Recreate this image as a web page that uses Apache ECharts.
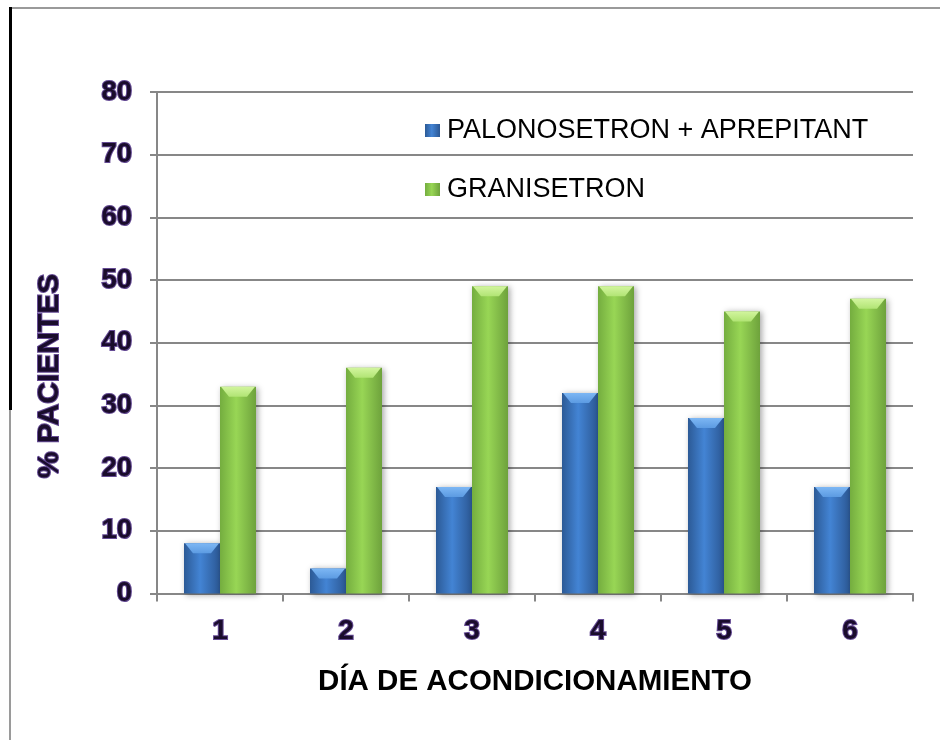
<!DOCTYPE html>
<html>
<head>
<meta charset="utf-8">
<script src="https://cdn.jsdelivr.net/npm/echarts@6/dist/echarts.min.js"></script>
<style>
  html, body { margin: 0; padding: 0; background: #ffffff; }
  #chart { width: 940px; height: 740px; }
</style>
</head>
<body>
<div id="chart"></div>
<script>
// Conditioning days and the share of patients per regimen
const days = ['1', '2', '3', '4', '5', '6'];
const palonosetronAprepitant = [8, 4, 17, 32, 28, 17];
const granisetron = [33, 36, 49, 49, 45, 47];
const seriesNames = ['PALONOSETRON + APREPITANT', 'GRANISETRON'];
const yTicks = { min: 0, max: 80, step: 10 };

const FONT = '"Liberation Sans", Arial, sans-serif';
const labelFill = '#1a0c2c';
const labelOutline = '#654b94';
const gridGray = '#878787';

// Horizontal shading across a bar: darker edges, lighter middle
function barShade(edge, mid, edge2) {
  return new echarts.graphic.LinearGradient(0, 0, 1, 0, [
    { offset: 0, color: edge },
    { offset: 0.45, color: mid },
    { offset: 1, color: edge2 }
  ]);
}

const blueFill = barShade('#2c5a96', '#4384d4', '#2b5793');
const greenFill = barShade('#74ad3f', '#98d655', '#6ea23c');

// Bevelled top cap drawn over each bar, positioned from the data through the axes
function capRenderer(side, capTop, capBottom) {
  return function (params, api) {
    const cat = api.value(0);
    const val = api.value(1);
    const top = api.coord([cat, val]);
    const barW = 36;
    const x0 = side < 0 ? top[0] - barW : top[0];
    const y0 = top[1];
    const h = Math.min(10, api.coord([cat, 0])[1] - y0);
    const inset = 9;
    return {
      type: 'group',
      silent: true,
      children: [
        {
          type: 'polygon',
          shape: { points: [[x0 + 1, y0], [x0 + barW - 1, y0], [x0 + barW - inset, y0 + h], [x0 + inset, y0 + h]] },
          style: {
            fill: new echarts.graphic.LinearGradient(0, 0, 0, 1, [
              { offset: 0, color: capTop },
              { offset: 1, color: capBottom }
            ])
          }
        }
      ]
    };
  };
}

const chart = echarts.init(document.getElementById('chart'), null, { renderer: 'canvas' });

chart.setOption({
  animation: false,
  backgroundColor: '#ffffff',
  grid: { left: 157, right: 27, top: 92, bottom: 146.5, containLabel: false },
  legend: {
    orient: 'vertical',
    left: 425,
    top: 117,
    padding: 0,
    itemWidth: 15,
    itemHeight: 13,
    itemGap: 32,
    icon: 'rect',
    data: seriesNames,
    textStyle: { fontFamily: FONT, fontSize: 27, color: '#000000', lineHeight: 27, padding: [0, 0, 0, 2] }
  },
  xAxis: {
    type: 'category',
    data: days,
    boundaryGap: true,
    axisLine: { show: true, lineStyle: { color: gridGray, width: 2 } },
    axisTick: { show: true, length: 8, inside: false, lineStyle: { color: gridGray, width: 2 } },
    axisLabel: {
      margin: 24,
      fontFamily: FONT, fontSize: 28, fontWeight: 'bold',
      color: labelFill, textBorderColor: labelOutline, textBorderWidth: 2
    },
    name: 'DÍA DE ACONDICIONAMIENTO',
    nameLocation: 'middle',
    nameGap: 73,
    nameTextStyle: { fontFamily: FONT, fontSize: 29.5, fontWeight: 'bold', color: '#000000' },
    splitLine: { show: false }
  },
  yAxis: {
    type: 'value',
    min: yTicks.min,
    max: yTicks.max,
    interval: yTicks.step,
    axisLine: { show: true, lineStyle: { color: gridGray, width: 2 } },
    axisTick: { show: true, length: 7, inside: false, lineStyle: { color: gridGray, width: 2 } },
    axisLabel: {
      margin: 25,
      fontFamily: FONT, fontSize: 27.5, fontWeight: 'bold',
      color: labelFill, textBorderColor: labelOutline, textBorderWidth: 2
    },
    splitLine: { show: true, lineStyle: { color: gridGray, width: 2 } }
  },
  series: [
    {
      name: seriesNames[0],
      type: 'bar',
      data: palonosetronAprepitant,
      barWidth: 36,
      barGap: '0%',
      itemStyle: {
        color: blueFill,
        shadowColor: 'rgba(0,0,0,0.35)', shadowBlur: 6, shadowOffsetX: 2, shadowOffsetY: 1
      }
    },
    {
      name: seriesNames[1],
      type: 'bar',
      data: granisetron,
      barWidth: 36,
      barGap: '0%',
      itemStyle: {
        color: greenFill,
        shadowColor: 'rgba(0,0,0,0.35)', shadowBlur: 6, shadowOffsetX: 2, shadowOffsetY: 1
      }
    },
    {
      type: 'custom',
      silent: true,
      z: 5,
      renderItem: capRenderer(-1, '#7db7f4', '#5c9be2'),
      data: palonosetronAprepitant.map((v, i) => [i, v])
    },
    {
      type: 'custom',
      silent: true,
      z: 5,
      renderItem: capRenderer(1, '#d2f59e', '#b1e474'),
      data: granisetron.map((v, i) => [i, v])
    }
  ],
  graphic: [
    // frame edges
    { type: 'line', silent: true, shape: { x1: 10, y1: 8, x2: 940, y2: 8 }, style: { stroke: '#9a9a9a', lineWidth: 2 } },
    { type: 'line', silent: true, shape: { x1: 10.5, y1: 7, x2: 10.5, y2: 410 }, style: { stroke: '#000000', lineWidth: 3 } },
    { type: 'line', silent: true, shape: { x1: 10, y1: 410, x2: 10, y2: 740 }, style: { stroke: '#9a9a9a', lineWidth: 2 } },
    // y-axis title
    {
      type: 'text',
      silent: true,
      x: 49.5,
      y: 376,
      rotation: Math.PI / 2,
      style: {
        text: '% PACIENTES',
        fontFamily: FONT, fontSize: 30, fontWeight: 'bold',
        fill: labelFill, stroke: labelOutline, lineWidth: 2,
        align: 'center', verticalAlign: 'middle'
      }
    }
  ]
});
</script>
</body>
</html>
